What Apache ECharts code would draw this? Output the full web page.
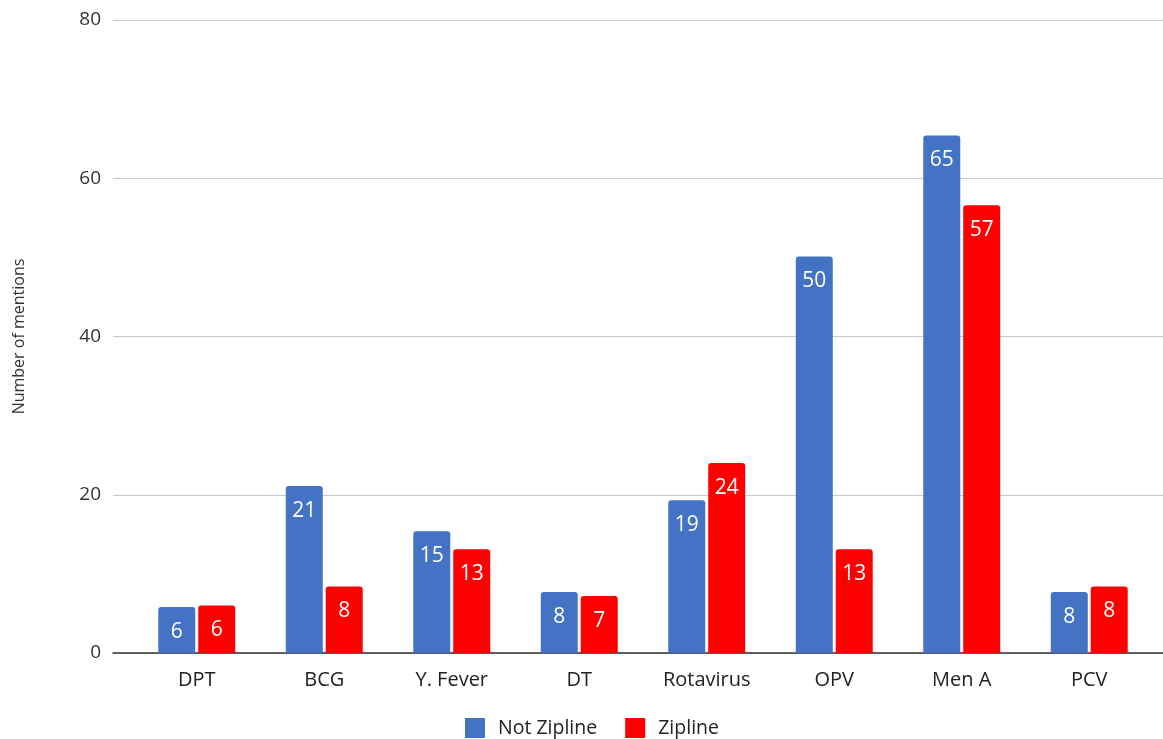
<!DOCTYPE html>
<html>
<head>
<meta charset="utf-8">
<script src="https://cdn.jsdelivr.net/npm/echarts@6/dist/echarts.min.js"></script>
<style>
  html, body { margin: 0; padding: 0; background: #fff; }
  #chart { width: 1163px; height: 739px; }
</style>
</head>
<body>
<div id="chart"></div>
<script>
const categories = ["DPT", "BCG", "Y. Fever", "DT", "Rotavirus", "OPV", "Men A", "PCV"];
const notZipline = [5.8, 21.1, 15.4, 7.7, 19.3, 50.1, 65.4, 7.7];
const zipline = [6.0, 8.4, 13.1, 7.2, 24.0, 13.1, 56.6, 8.4];
const yTicks = [0, 20, 40, 60, 80];

const font = "'Open Sans', 'Noto Sans', sans-serif";
let myChart = echarts.init(document.getElementById("chart"));

const barLabel = {
  show: true,
  position: "insideTop",
  distance: 14,
  color: "#fff",
  fontSize: 21,
  fontFamily: font,
  formatter: (p) => Math.round(p.value),
};

let option = {
  animation: false,
  textStyle: { fontFamily: font },
  grid: [
    // background grid: gridlines + y labels, full width
    { left: 113, right: 0, top: 20, bottom: 86 },
    // bars
    { left: 133, right: 10, top: 20, bottom: 86 },
  ],
  legend: {
    data: ["Not Zipline", "Zipline"],
    bottom: -4,
    left: 460,
    itemWidth: 20,
    itemHeight: 20,
    itemGap: 28,
    icon: "rect",
    textStyle: { color: "#222", fontSize: 19.5, fontFamily: font, padding: [0, 0, 0, 8] },
  },
  xAxis: [
    {
      gridIndex: 0,
      type: "category",
      data: categories,
      axisLine: { show: true, lineStyle: { color: "#333", width: 1.5 } },
      axisTick: { show: false },
      axisLabel: { show: false },
    },
    {
      gridIndex: 1,
      type: "category",
      data: categories,
      axisLine: { show: false },
      axisTick: { show: false },
      axisLabel: { color: "#222", fontSize: 20, margin: 17, fontFamily: font },
    },
  ],
  yAxis: [
    {
      gridIndex: 0,
      type: "value",
      min: yTicks[0],
      max: yTicks[yTicks.length - 1],
      interval: 20,
      name: "Number of mentions",
      nameLocation: "middle",
      nameGap: 86,
      nameTextStyle: { color: "#333", fontSize: 16, fontFamily: font },
      axisLine: { show: false },
      axisTick: { show: false },
      axisLabel: { color: "#333", fontSize: 19, margin: 12, fontFamily: font },
      splitLine: { lineStyle: { color: "#c8c8c8", width: 1.2 } },
    },
    {
      gridIndex: 1,
      type: "value",
      min: yTicks[0],
      max: yTicks[yTicks.length - 1],
      interval: 20,
      show: false,
      splitLine: { show: false },
    },
  ],
  series: [
    {
      name: "Not Zipline",
      type: "bar",
      xAxisIndex: 1,
      yAxisIndex: 1,
      data: notZipline,
      barWidth: 37,
      barGap: "8%",
      itemStyle: { color: "#4472C4", borderRadius: [3, 3, 0, 0] },
      label: barLabel,
    },
    {
      name: "Zipline",
      type: "bar",
      xAxisIndex: 1,
      yAxisIndex: 1,
      data: zipline,
      barWidth: 37,
      barGap: "8%",
      itemStyle: { color: "#FF0000", borderRadius: [3, 3, 0, 0] },
      label: barLabel,
    },
  ],
};
myChart.setOption(option);
</script>
</body>
</html>
